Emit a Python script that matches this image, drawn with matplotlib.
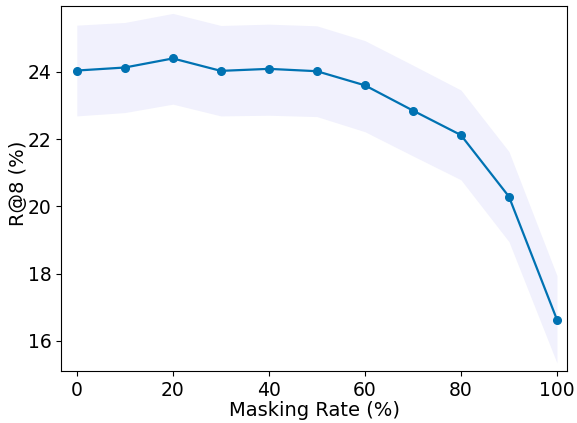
import matplotlib
matplotlib.use("Agg")
import matplotlib.pyplot as plt

masking_rate = [0, 10, 20, 30, 40, 50, 60, 70, 80, 90, 100]
recall = [24.04, 24.13, 24.40, 24.03, 24.09, 24.02, 23.60, 22.85, 22.12, 20.29, 16.63]
band_upper = [25.39, 25.47, 25.74, 25.38, 25.42, 25.37, 24.93, 24.20, 23.46, 21.63, 17.94]
band_lower = [22.69, 22.79, 23.04, 22.69, 22.71, 22.67, 22.22, 21.50, 20.79, 18.95, 15.34]
xticks = [0, 20, 40, 60, 80, 100]
yticks = [16, 18, 20, 22, 24]

fig = plt.figure(figsize=(5.77, 4.23), dpi=100)
ax = fig.add_axes([0.1057, 0.1229, 0.877, 0.8629])
ax.fill_between(masking_rate, band_lower, band_upper, color="#F1F1FD", linewidth=0)
ax.plot(masking_rate, recall, color="#0072B2", linewidth=1.6, marker="o", markersize=5.5)
ax.set_xlim(-3.3, 102.1)
ax.set_ylim(15.1, 25.96)
ax.set_xticks(xticks)
ax.set_yticks(yticks)
ax.tick_params(labelsize=13.5)
ax.set_xlabel("Masking Rate (%)", fontsize=14, labelpad=1)
ax.set_ylabel("R@8 (%)", fontsize=14)
ax.yaxis.set_label_coords(-0.066, 0.514)
fig.savefig("out.png", dpi=100)
